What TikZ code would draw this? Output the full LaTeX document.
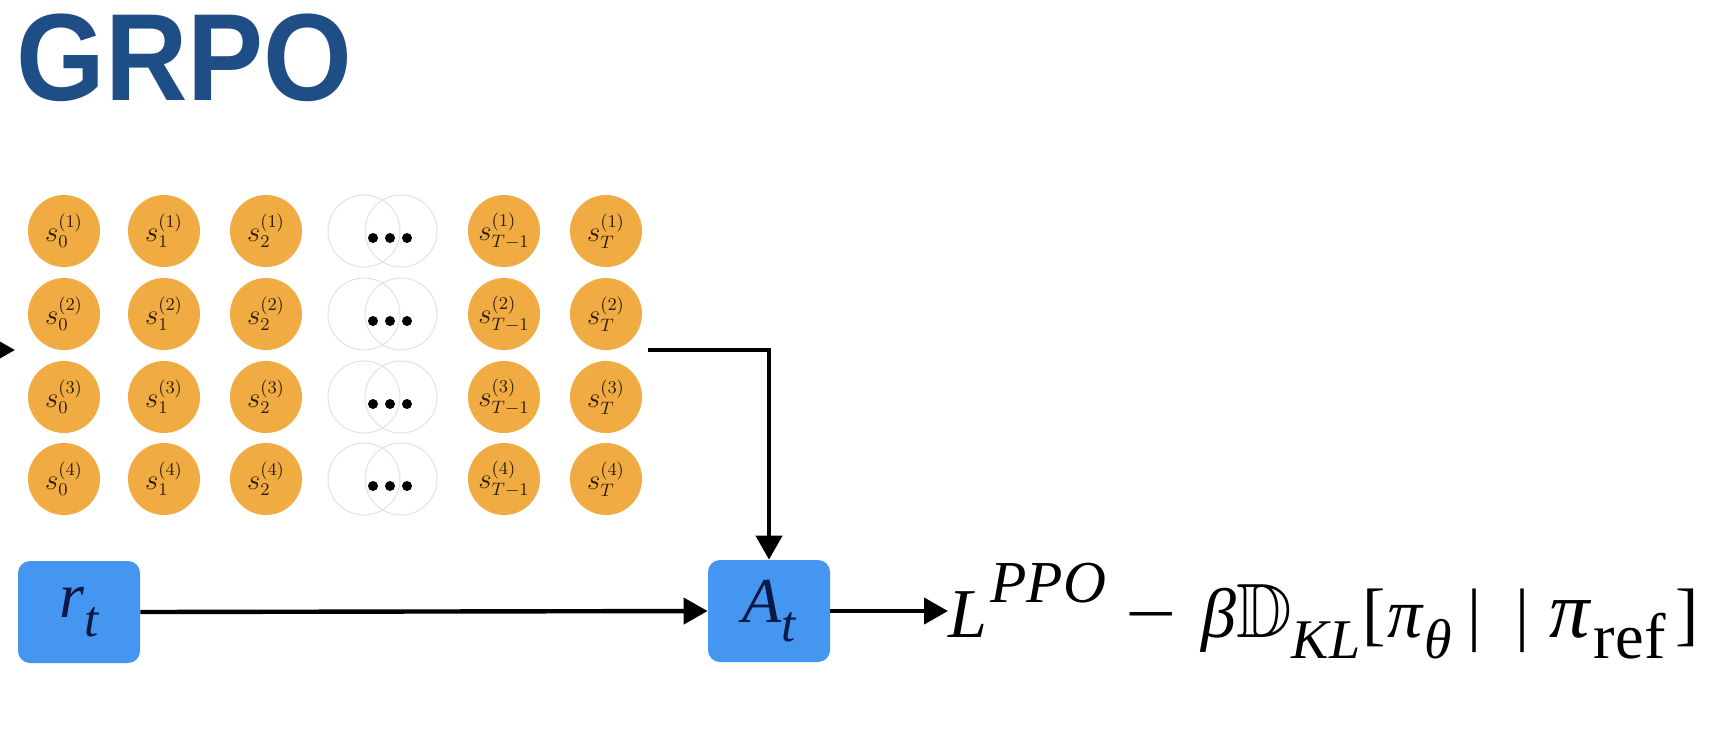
\documentclass[tikz,border=0pt]{standalone}
\usepackage{amssymb}
\usepackage{graphicx}
\usepackage{fontspec}
\setmainfont{Liberation Serif}
\newfontfamily\titlefont[FakeStretch=0.92]{Liberation Sans}
\usetikzlibrary{arrows.meta}
\definecolor{titleblue}{RGB}{31,77,133}
\definecolor{orb}{RGB}{240,172,66}
\definecolor{boxblue}{RGB}{68,150,240}
\definecolor{ghost}{RGB}{226,226,226}
\definecolor{lbl}{RGB}{45,30,8}
\definecolor{navy}{RGB}{10,25,70}
\newcommand{\lowx}[1]{\raisebox{-0.3em}{\scalebox{0.8}{#1}}}
\newcommand{\highx}[1]{\raisebox{0.5em}{\scalebox{0.85}{#1}}}
\begin{document}
\begin{tikzpicture}[x=0.5pt,y=-0.5pt,
 state/.style={circle,fill=orb,draw=none,minimum size=36pt,inner sep=0pt,text=lbl,font=\fontsize{13.5}{15}\selectfont},
 ghostc/.style={circle,draw=ghost,line width=0.5pt,minimum size=36pt,inner sep=0pt},
 bluebox/.style={rounded corners=6pt,fill=boxblue,minimum width=61pt,minimum height=51pt,inner sep=0pt,text=navy,font=\fontsize{32}{34}\selectfont\itshape},
 conn/.style={line width=2.2pt,-{Triangle[length=12pt,width=13pt]}},
 dotstyle/.style={circle,fill=black,inner sep=0pt,minimum size=5pt},
]
\useasboundingbox (0,0) rectangle (1714,730);
\clip (0,0) rectangle (1714,730);
\fill[white] (0,0) rectangle (1714,730);

\node[anchor=base west,inner sep=0pt,text=titleblue,font=\titlefont\bfseries\fontsize{62}{64}\selectfont] (title) at (16,100) {GRPO};

\foreach \r/\y in {1/231,2/314,3/397,4/479} {
  \foreach \c/\x/\s in {0/64/0,1/164/1,2/266/2,Tm/504/{T-1},T/606/T}
    \node[state] (c-\r-\c) at (\x,\y) {$s_{\s}^{(\r)}$};
  \node[ghostc] (ga-\r) at (364,\y) {};
  \node[ghostc] (gb-\r) at (401,\y) {};
  \node[dotstyle] (da-\r) at (373,\y+7) {};
  \node[dotstyle] (db-\r) at (390,\y+7) {};
  \node[dotstyle] (dc-\r) at (407,\y+7) {};
}

\node[bluebox] (rt) at (79,612) {r\lowx{t}};
\node[bluebox] (At) at (769,611) {A\lowx{t}};
\node[anchor=base west,inner sep=0pt,font=\fontsize{35}{40}\selectfont] (loss) at (948,637)
  {\textit{L}\hspace{1.5pt}\highx{\textit{PPO}}\hspace{10pt}\scalebox{1.3}[1]{−}\hspace{12pt}\textit{β}\scalebox{1.1}{$\mathbb{D}$}\lowx{\textit{KL}}\hspace{1pt}[\hspace{1pt}\textit{π}\lowx{\textit{θ}}\hspace{8pt}|\hspace{17pt}|\hspace{10pt}\scalebox{1.15}{\textit{π}}\hspace{1pt}\lowx{\scalebox{1.15}{ref}}\hspace{5pt}]};

\coordinate (src) at (-30,350);
\coordinate (tip) at (15,350);
\draw[conn] (src) -- (tip);
\draw[conn,shorten <=3pt] (c-2-T.east |- 0,350) -| (At.north);
\draw[conn] (rt.east) -- (At.west);
\draw[conn] (At.east) -- (At.east -| loss.west);
\end{tikzpicture}
\end{document}
